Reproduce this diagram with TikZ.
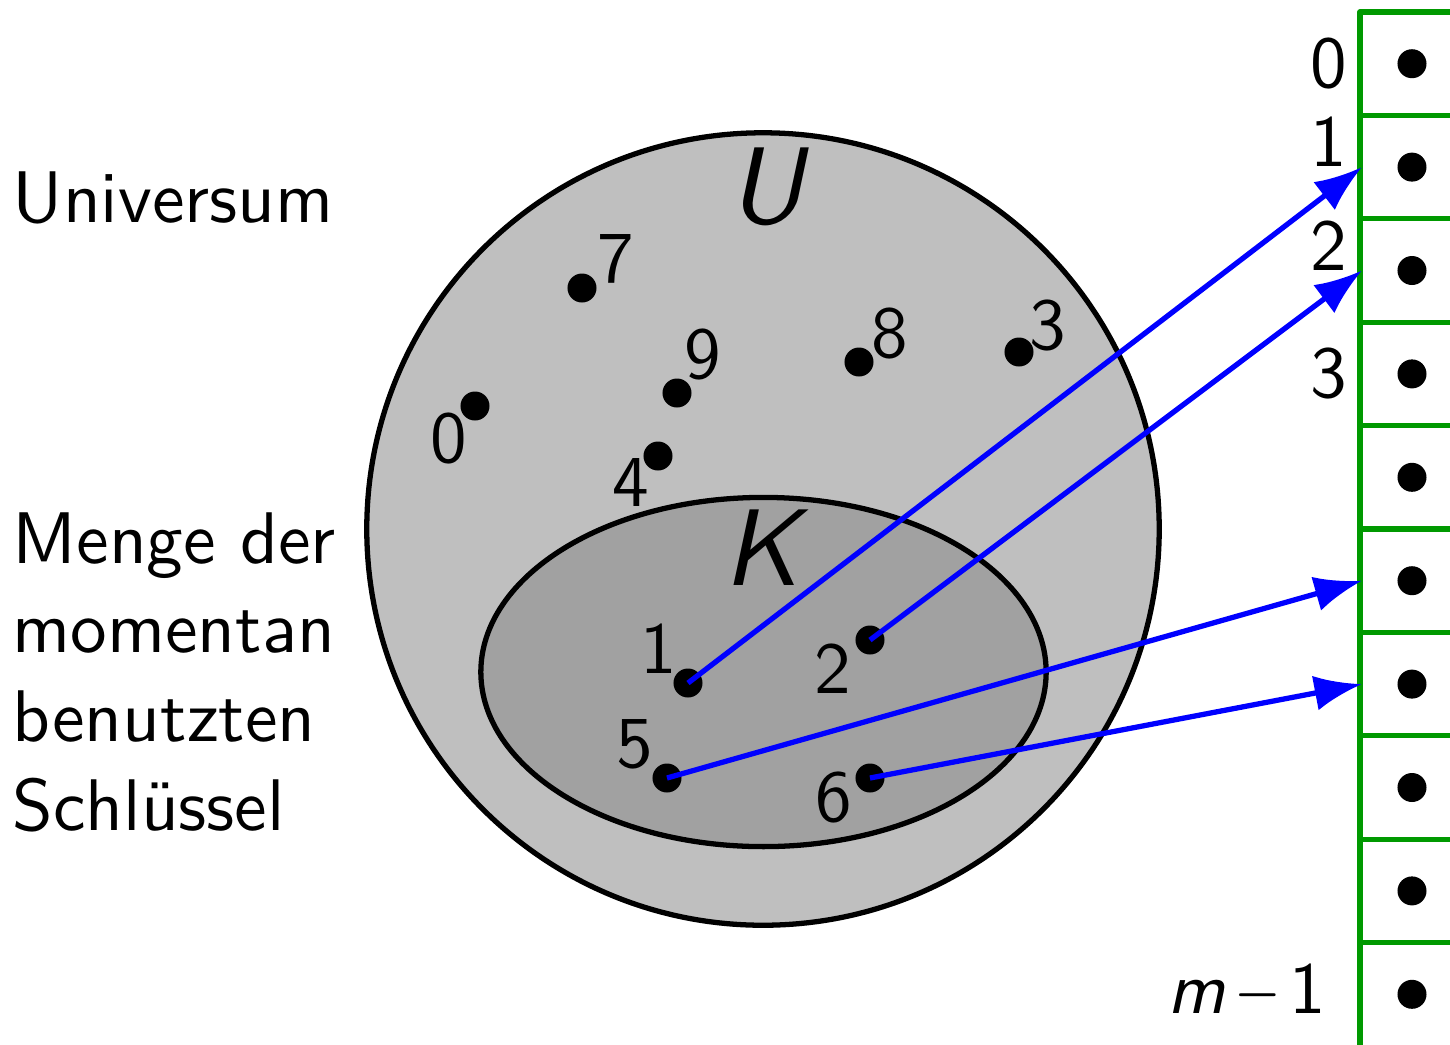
\documentclass[tikz,border=0pt]{standalone}
\usepackage{fontspec}
\setsansfont{lmsans10-regular.otf}[ItalicFont=lmsans10-oblique.otf,BoldFont=lmsans10-bold.otf]
\renewcommand\familydefault{\sfdefault}
\usetikzlibrary{arrows.meta}
\definecolor{tabgreen}{RGB}{0,153,0}
\begin{document}
\begin{tikzpicture}[x=0.01cm,y=-0.01cm,
  font=\fontsize{20.8}{25.3}\selectfont,
  keydot/.style={circle,fill=black,inner sep=0pt,minimum size=0.29cm},
  lbl/.style={inner sep=0pt,anchor=base},
  biglbl/.style={inner sep=0pt,anchor=base,font=\fontsize{31}{36}\selectfont\itshape},
  maparrow/.style={blue,line width=1.5pt,-{Latex[length=13.5pt,width=10pt]}},
  tabline/.style={tabgreen,line width=1.5pt}]
\useasboundingbox (0,0) rectangle (1450,1044);
\clip (0,0) rectangle (1450,1044);

% universe and key set
\draw[line width=1.5pt,fill=black!25] (763,529) circle[radius=3.96cm];
\draw[line width=1.5pt,fill=black!37] (763.5,672) ellipse[x radius=2.825cm,y radius=1.745cm];
\node[biglbl] (U) at (766,223) {U};
\node[biglbl] (K) at (761,585) {K};

% left texts
\node[inner sep=0pt,anchor=base west] (univ) at (12,222) {Universum};
\node[inner sep=0pt,anchor=base west,align=left] (menge) at (12,830)
  {Menge der\\momentan\\benutzten\\Schlüssel};

% keys
\node[keydot] (k7) at (582,288) {};
\node[keydot] (k9) at (677,393) {};
\node[keydot] (k8) at (859,362) {};
\node[keydot] (k3) at (1019,352) {};
\node[keydot] (k0) at (475,406) {};
\node[keydot] (k4) at (658,456) {};
\node[keydot] (k1) at (688,683) {};
\node[keydot] (k2) at (870,640) {};
\node[keydot] (k5) at (667,778) {};
\node[keydot] (k6) at (870,778) {};

\node[lbl] (t7) at (616,282) {7};
\node[lbl] (t9) at (703,378) {9};
\node[lbl] (t8) at (890,357) {8};
\node[lbl] (t3) at (1048,349) {3};
\node[lbl] (t0) at (449,462) {0};
\node[lbl] (t4) at (631,506) {4};
\node[lbl] (t1) at (659,673) {1};
\node[lbl] (t2) at (833,693) {2};
\node[lbl] (t5) at (635,767) {5};
\node[lbl] (t6) at (834,821) {6};

% table
\draw[tabline,line join=round] (1470,12) -- (1360,12) -- (1360,1060);
\foreach \i in {1,...,9}{
  \draw[tabline] (1360,{12+103.4*\i}) -- (1470,{12+103.4*\i});
}
\foreach \i in {0,...,9}{
  \node[keydot] (s\i) at (1412,{63.7+103.4*\i}) {};
  \coordinate (e\i) at (1362,{63.7+103.4*\i});
}
\node[lbl] (r0) at (1329,87) {0};
\node[lbl] (r1) at (1329,166) {1};
\node[lbl] (r2) at (1329,270) {2};
\node[lbl] (r3) at (1329,397) {3};
\node[inner sep=0pt,anchor=base east] (rm) at (1327,1013)
  {{\itshape m}\hspace{0.15em}\scalebox{0.75}[1]{−}\hspace{0.15em}1};

% hash mapping
\draw[maparrow] (k1.center) -- (e1);
\draw[maparrow] (k2.center) -- (e2);
\draw[maparrow] (k5.center) -- (e5);
\draw[maparrow] (k6.center) -- (e6);
\end{tikzpicture}
\end{document}
